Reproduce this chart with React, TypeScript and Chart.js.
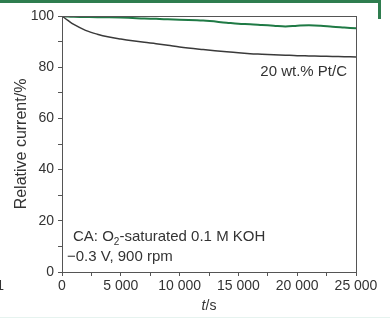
import React, { useEffect, useRef } from "react";
import { Chart, registerables } from "chart.js";

Chart.register(...registerables);

const times = [0, 500, 1000, 2000, 3000, 4000, 5000, 6000, 7000, 8000, 9000, 10000, 12000, 14000, 15000, 16000, 17000, 18000, 19000, 20000, 21000, 22000, 23000, 24000, 25000];
const ptcCurrent = [100, 98.3, 96.7, 94.4, 92.9, 91.8, 91.0, 90.3, 89.7, 89.2, 88.6, 87.9, 86.9, 86.0, 85.6, 85.3, 85.1, 84.9, 84.7, 84.5, 84.4, 84.3, 84.2, 84.1, 84.0];
const catalystCurrent = [100, 99.8, 99.7, 99.6, 99.5, 99.5, 99.4, 99.2, 99.0, 98.9, 98.7, 98.5, 98.2, 97.4, 97.0, 96.8, 96.5, 96.2, 95.9, 96.2, 96.4, 96.2, 95.8, 95.5, 95.2];
const xTickValues = [0, 5000, 10000, 15000, 20000, 25000];
const yTickValues = [0, 20, 40, 60, 80, 100];
const ptcLabel = "20 wt.% Pt/C";
const conditionLine1 = ["CA: O", "2", "-saturated 0.1 M KOH"];
const conditionLine2 = "\u22120.3 V, 900 rpm";
const yTitle = "Relative current/%";

const FONT = "'Liberation Sans', Arial, Helvetica, sans-serif";
const TEXT = "#333333";
const AXIS = "#555555";

const fmt = (v: number) => {
  if (v < 1000) return String(v);
  const s = String(v);
  return s.slice(0, s.length - 3) + " " + s.slice(s.length - 3);
};

const decor = {
  id: "decor",
  afterDraw(chart: any) {
    const { ctx, chartArea } = chart;
    const { left, right, top, bottom } = chartArea;
    ctx.save();
    // plot box
    ctx.strokeStyle = AXIS;
    ctx.lineWidth = 1;
    ctx.strokeRect(left + 0.5, top + 0.5, right - left, bottom - top);
    // annotations
    ctx.fillStyle = TEXT;
    ctx.font = `15px ${FONT}`;
    ctx.textBaseline = "middle";
    ctx.textAlign = "right";
    ctx.fillText(ptcLabel, 347, 72);
    ctx.textAlign = "left";
    let x = 73;
    ctx.fillText(conditionLine1[0], x, 237);
    x += ctx.measureText(conditionLine1[0]).width;
    ctx.font = `10px ${FONT}`;
    ctx.fillText(conditionLine1[1], x, 242);
    x += ctx.measureText(conditionLine1[1]).width;
    ctx.font = `15px ${FONT}`;
    ctx.fillText(conditionLine1[2], x, 237);
    ctx.fillText(conditionLine2, 67, 257);
    // x title "t/s" with italic t
    ctx.font = `italic 14px ${FONT}`;
    const wT = ctx.measureText("t").width;
    ctx.font = `14px ${FONT}`;
    const wS = ctx.measureText("/s").width;
    const cx = (left + right) / 2;
    const tx = cx - (wT + wS) / 2;
    ctx.font = `italic 14px ${FONT}`;
    ctx.fillText("t", tx, 306);
    ctx.font = `14px ${FONT}`;
    ctx.fillText("/s", tx + wT, 306);
    // cut-off label from neighbouring panel
    ctx.textAlign = "right";
    ctx.fillText("1", 4, 286);
    // y title
    ctx.translate(22, (top + bottom) / 2);
    ctx.rotate(-Math.PI / 2);
    ctx.textAlign = "center";
    ctx.font = `16px ${FONT}`;
    ctx.fillText(yTitle, 0, 0);
    ctx.restore();
    // frame pieces from the source figure
    ctx.save();
    ctx.strokeStyle = "#2f7d4f";
    ctx.lineWidth = 3;
    ctx.beginPath();
    ctx.moveTo(0, 1.5);
    ctx.lineTo(379.5, 1.5);
    ctx.lineTo(379.5, 19);
    ctx.stroke();
    ctx.strokeStyle = "#e6f3ef";
    ctx.lineWidth = 1;
    ctx.beginPath();
    ctx.moveTo(0, 317.5);
    ctx.lineTo(390, 317.5);
    ctx.stroke();
    ctx.restore();
  },
};

export default function App() {
  const ref = useRef<HTMLCanvasElement | null>(null);
  useEffect(() => {
    if (!ref.current) return;
    const chart = new Chart(ref.current, {
      type: "line",
      data: {
        datasets: [
          {
            label: ptcLabel,
            data: times.map((t, i) => ({ x: t, y: ptcCurrent[i] })),
            borderColor: "#3a3a3a",
            borderWidth: 1.5,
            pointRadius: 0,
            tension: 0.35,
            fill: false,
          },
          {
            label: "catalyst",
            data: times.map((t, i) => ({ x: t, y: catalystCurrent[i] })),
            borderColor: "#1f7a45",
            borderWidth: 2,
            pointRadius: 0,
            tension: 0.35,
            fill: false,
          },
        ],
      },
      options: {
        animation: false,
        responsive: false,
        layout: { padding: { top: 16, right: 34, left: 0, bottom: 0 } },
        plugins: { legend: { display: false }, tooltip: { enabled: false } },
        scales: {
          x: {
            type: "linear",
            min: 0,
            max: 25000,
            afterFit: (s: any) => { s.height = 48; },
            ticks: {
              stepSize: 2500,
              autoSkip: false,
              maxRotation: 0,
              padding: 2,
              color: TEXT,
              font: { size: 14, family: FONT },
              callback: (v: any) => (xTickValues.includes(Number(v)) ? fmt(Number(v)) : ""),
            },
            grid: { drawOnChartArea: false, drawTicks: true, tickLength: 4, color: AXIS },
            border: { color: AXIS },
          },
          y: {
            min: 0,
            max: 100,
            afterFit: (s: any) => { s.width = 62; },
            ticks: {
              stepSize: 10,
              autoSkip: false,
              padding: 4,
              color: TEXT,
              font: { size: 14, family: FONT },
              callback: (v: any) => (yTickValues.includes(Number(v)) ? String(v) : ""),
            },
            grid: { drawOnChartArea: false, drawTicks: true, tickLength: 4, color: AXIS },
            border: { color: AXIS },
          },
        },
      },
      plugins: [decor],
    });
    return () => chart.destroy();
  }, []);
  return (
    <div style={{ position: "fixed", left: 0, top: 0, width: 390, height: 320, background: "#fff" }}>
      <canvas ref={ref} width={390} height={320} />
    </div>
  );
}
